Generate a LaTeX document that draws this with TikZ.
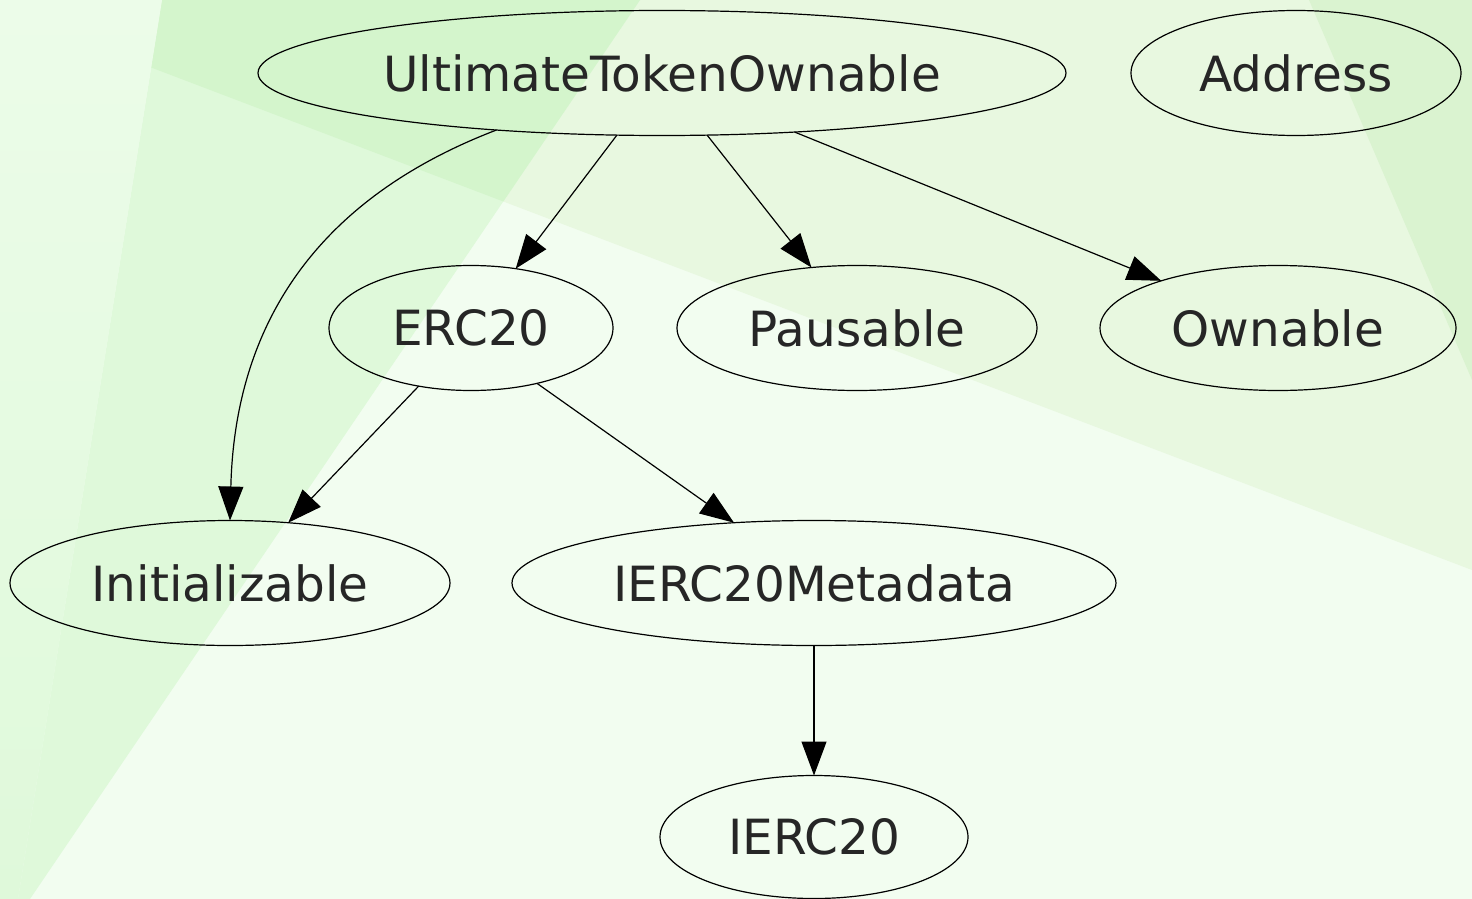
\documentclass[tikz,border=0pt]{standalone}
\usepackage{fontspec}
\setmainfont{DejaVu Sans}
\usetikzlibrary{shapes.geometric,arrows.meta}
\definecolor{bgLow}{HTML}{F2FDF0}
\definecolor{bgHigh}{HTML}{E8F8E0}
\definecolor{wedgeLow}{HTML}{DFF9DA}
\definecolor{wedgeHigh}{HTML}{D4F5CC}
\definecolor{stripTop}{HTML}{ECFCE9}
\definecolor{cornerTR}{HTML}{DAF3D0}
\begin{document}
\begin{tikzpicture}[x=1pt,y=-1pt,
  cls/.style={ellipse,draw=black,line width=1.2pt,inner sep=0pt,outer sep=0pt,
    minimum height=125pt,font=\fontsize{48.5}{58}\selectfont,text=black!85},
  dep/.style={draw=black,line width=1.2pt,-{Triangle[length=34pt,width=25pt]}}]
\useasboundingbox (0,0) rectangle (1472,899);

% background panels
\fill[bgLow] (0,0) rectangle (1472,899);
\fill[bgHigh] (0,0) -- (1472,0) -- (1472,570) -- (0,10) -- cycle;
\begin{scope}
  \clip (162,0) -- (640,0) -- (30,899) -- (18,899) -- cycle;
  \fill[wedgeLow] (0,0) rectangle (1472,899);
  \fill[wedgeHigh] (0,0) -- (1472,0) -- (1472,570) -- (0,10) -- cycle;
\end{scope}
\shade[top color=stripTop,bottom color=wedgeLow] (0,0) -- (162,0) -- (18,899) -- (0,899) -- cycle;
\fill[cornerTR] (1309,0) -- (1472,0) -- (1472,380) -- cycle;

% classes
\node[cls,minimum width=808pt] (uto) at (662,73) {UltimateTokenOwnable};
\node[cls,minimum width=330pt] (addr) at (1296,73) {Address};
\node[cls,minimum width=284pt] (erc) at (471,328) {ERC20};
\node[cls,minimum width=360pt] (paus) at (857,328) {Pausable};
\node[cls,minimum width=356pt] (own) at (1278,328) {Ownable};
\node[cls,minimum width=440pt] (init) at (230,583) {Initializable};
\node[cls,minimum width=604pt] (meta) at (814,583) {IERC20Metadata};
\node[cls,minimum width=308pt,minimum height=123pt] (ierc) at (814,837) {IERC20};

% inheritance edges
\draw[dep] (uto.234) -- (erc.53);
\draw[dep] (uto.306) -- (paus.127);
\draw[dep] (uto.336) -- (own.158);
\draw[dep] (uto.199) .. controls +(-175,67) and +(5,-201) .. (init.90);
\draw[dep] (erc.228) -- (init.46);
\draw[dep] (erc.320) -- (meta.143);
\draw[dep] (meta.270) -- (ierc.90);
\end{tikzpicture}
\end{document}
